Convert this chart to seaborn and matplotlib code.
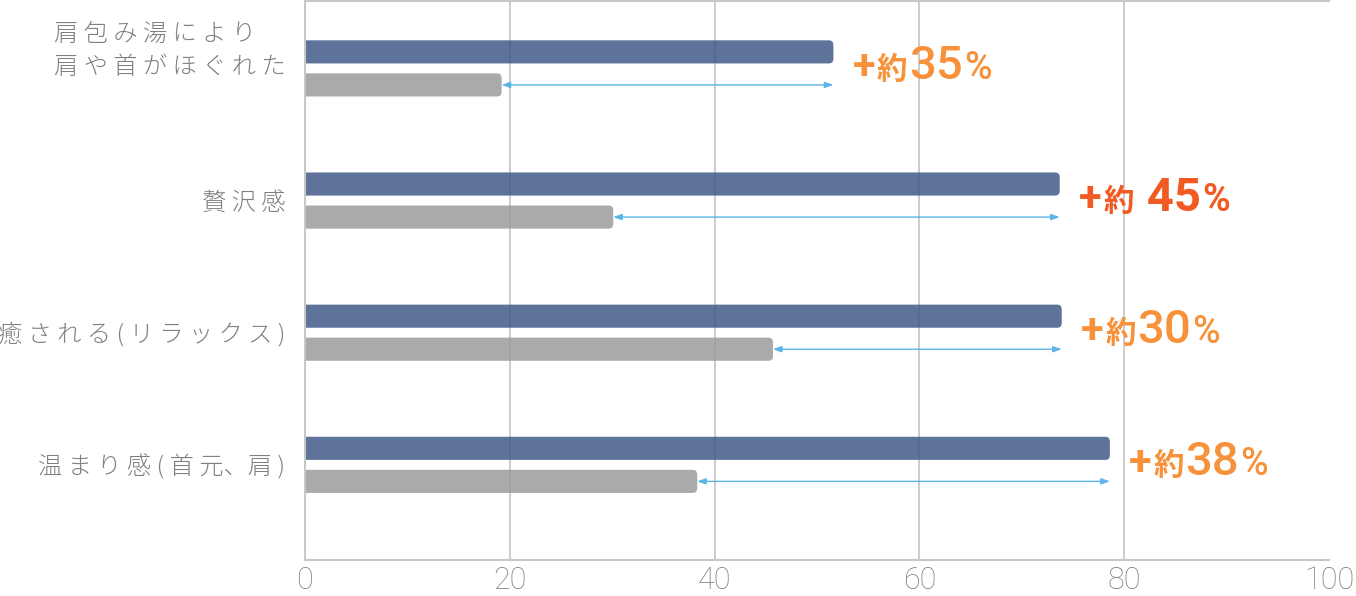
import numpy as np
import pandas as pd
import matplotlib
matplotlib.use("Agg")
import matplotlib.pyplot as plt
import matplotlib.transforms as mtransforms
from matplotlib.patches import FancyBboxPatch
from matplotlib.offsetbox import TextArea, HPacker, AnnotationBbox
import seaborn as sns

# data
categories = ["肩包み湯により\n肩や首がほぐれた", "贅沢感", "癒される(リラックス)", "温まり感(首元、肩)"]
after_vals = [51.6, 73.7, 73.9, 78.6]
before_vals = [19.2, 30.1, 45.7, 38.3]
pct_labels = ["35", " 45", "30", "38"]
pct_colors = ["#f7923a", "#f15a22", "#f7923a", "#f7923a"]
x_ticks = [0, 20, 40, 60, 80, 100]

df = pd.DataFrame({
    "cat": categories * 2,
    "series": ["after"] * 4 + ["before"] * 4,
    "value": after_vals + before_vals,
})

sns.set_style("white")
plt.rcParams["font.family"] = ["Noto Sans CJK JP", "DejaVu Sans"]

W, H = 1356, 596
fig = plt.figure(figsize=(W / 100, H / 100), dpi=100)
ax = fig.add_axes([305 / W, 1 - 560 / H, (1329 - 305) / W, 559 / H])

sns.barplot(data=df, y="cat", x="value", hue="series", orient="h",
            palette={"after": "#415a87", "before": "#9b9b9b"},
            width=0.5, gap=0.3, errorbar=None, legend=False, ax=ax,
            alpha=0.85, saturation=1)

ax.set_xlim(0, 100)
ax.set_ylim(3.72, -0.51)

# rounded bar ends
xpx = (1329 - 305) / 100
ypx = 559 / (3.72 + 0.51)
asp = xpx / ypx
bars = list(ax.patches)
for p in bars:
    x, y, w, h = p.get_x(), p.get_y(), p.get_width(), p.get_height()
    fc = p.get_facecolor()
    p.remove()
    ax.add_patch(FancyBboxPatch((x - 1, y), w + 1, h,
                                boxstyle="round,pad=0,rounding_size=0.45",
                                mutation_aspect=asp, fc=fc, ec="none", zorder=2))

n = len(categories)
after_bars = bars[:n]
before_bars = bars[n:]

# arrows + labels
for i in range(n):
    gb = before_bars[i]
    yc = gb.get_y() + gb.get_height() / 2
    ax.annotate("", xy=(before_vals[i], yc), xytext=(after_vals[i], yc),
                arrowprops=dict(arrowstyle="<|-|>,head_length=0.5,head_width=0.18",
                                color="#5ab4e5", lw=1, shrinkA=0, shrinkB=0),
                zorder=3)
    col = pct_colors[i]
    wt = "bold" if i == 1 else "medium"
    parts = [
        TextArea("+", textprops=dict(color=col, size=30, weight="bold", family=["Roboto", "DejaVu Sans"])),
        TextArea("約", textprops=dict(color=col, size=22, weight="bold", family=["Noto Sans CJK JP"])),
        TextArea(pct_labels[i], textprops=dict(color=col, size=34, weight=wt, family=["Roboto", "DejaVu Sans"])),
        TextArea("%", textprops=dict(color=col, size=27, weight=wt, family=["Roboto", "DejaVu Sans"])),
    ]
    box = HPacker(children=parts, align="baseline", pad=0, sep=1)
    ab = AnnotationBbox(box, (after_vals[i], i), xybox=(14, 2), xycoords="data",
                        boxcoords="offset points", box_alignment=(0, 0.5),
                        frameon=False, annotation_clip=False)
    ax.add_artist(ab)

# axes styling
ax.set_xticks(x_ticks)
ax.set_xticklabels([str(t) for t in x_ticks], family=["Roboto", "DejaVu Sans"],
                   fontweight="light", fontsize=22, color="#808080")


def spaced(s):
    out = ""
    for j, ch in enumerate(s):
        out += ch
        if j + 1 < len(s):
            nx = s[j + 1]
            if ch in "、\n" or nx in "、\n":
                continue
            out += " "
    return out


ax.set_yticks(range(n))
ax.set_yticklabels([spaced(c) for c in categories], fontsize=17.5,
                   fontweight="light", color="#808080")
ax.tick_params(axis="x", length=0, pad=4)
ax.tick_params(axis="y", length=0, pad=14)

lab0 = ax.get_yticklabels()[0]
lab0.set_multialignment("left")
lab0.set_linespacing(1.4)
off = mtransforms.ScaledTranslation(0, 24 / 100, fig.dpi_scale_trans)
lab0.set_transform(lab0.get_transform() + off)

ax.set_xlabel("")
ax.set_ylabel("")

ax.xaxis.grid(True, color="#c4c4c4", lw=1.2)
ax.get_xgridlines()[-1].set_visible(False)
ax.yaxis.grid(False)
ax.set_axisbelow(True)
for s in ["top", "left", "bottom"]:
    ax.spines[s].set_color("#c8c8c8")
    ax.spines[s].set_linewidth(1.5)
ax.spines["right"].set_visible(False)

fig.savefig("out.png", dpi=100)
